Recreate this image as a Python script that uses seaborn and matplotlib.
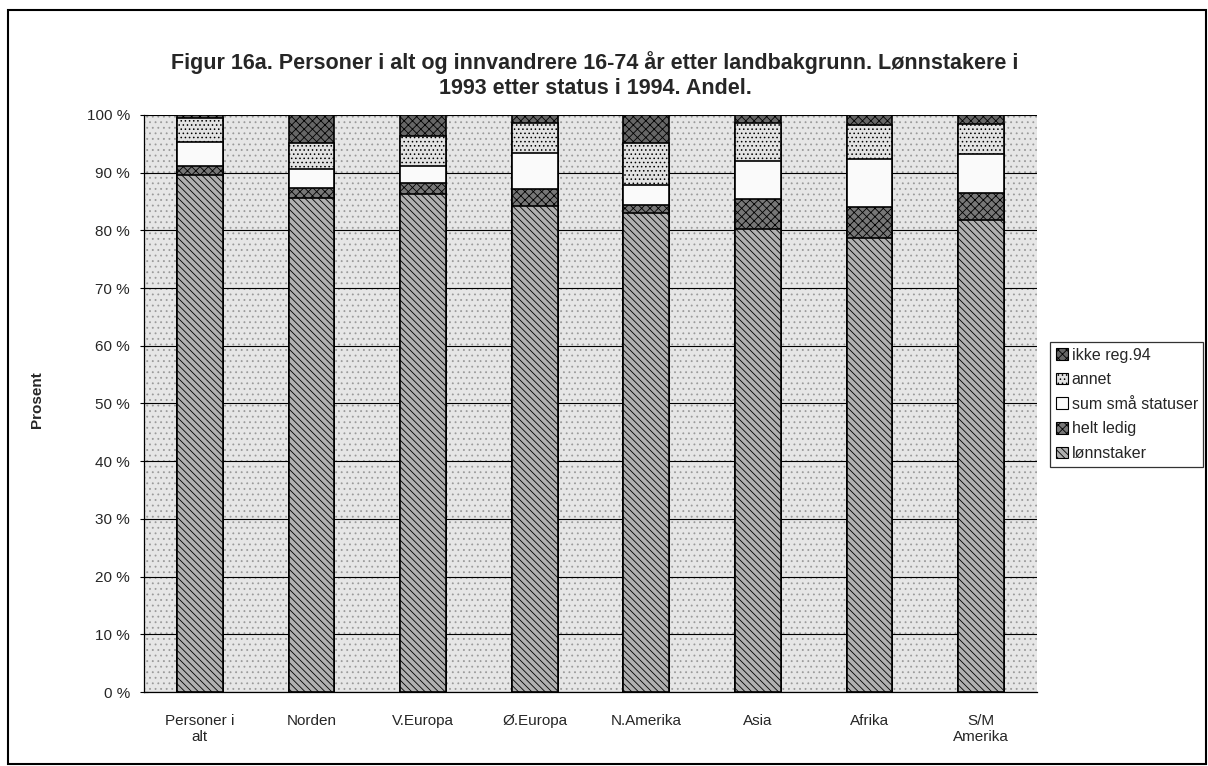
"""
Figur 16a - lønnstakere i 1993 etter status i 1994, stablet andel per landbakgrunn
"""

import numpy as np
import pandas as pd
import matplotlib
matplotlib.use("Agg")
import matplotlib.pyplot as plt
from matplotlib.patches import Patch, Rectangle
import seaborn as sns

categories = ["Personer i\nalt", "Norden", "V.Europa", "Ø.Europa",
              "N.Amerika", "Asia", "Afrika", "S/M\nAmerika"]
series_names = ["lønnstaker", "helt ledig", "sum små statuser", "annet", "ikke reg.94"]

lonnstaker = [89.6, 85.6, 86.3, 84.3, 83.0, 80.3, 78.7, 81.8]
helt_ledig = [1.5, 1.7, 1.9, 2.8, 1.4, 5.2, 5.4, 4.6]
sma_statuser = [4.3, 3.4, 3.0, 6.3, 3.4, 6.6, 8.3, 6.8]
annet = [4.0, 4.4, 5.2, 5.2, 7.3, 6.6, 5.9, 5.2]
ikke_reg = [0.6, 4.9, 3.6, 1.4, 4.9, 1.3, 1.7, 1.6]

yticks = list(range(0, 101, 10))

sns.set_theme(style="white")
plt.rcParams["font.family"] = ["Liberation Sans", "DejaVu Sans"]
plt.rcParams["hatch.color"] = "black"
plt.rcParams["hatch.linewidth"] = 0.6

# styles for each series (bottom -> top)
styles = {
    "lønnstaker": dict(color="#b0b0b0", hatch="\\\\\\\\\\"),
    "helt ledig": dict(color="#777777", hatch="xxxx"),
    "sum små statuser": dict(color="#fafafa", hatch=""),
    "annet": dict(color="#e2e2e2", hatch="...."),
    "ikke reg.94": dict(color="#666666", hatch="xxxx"),
}

values = np.array([lonnstaker, helt_ledig, sma_statuser, annet, ikke_reg])
cum = np.cumsum(values, axis=0)

rows = []
for name, tops in zip(series_names, cum):
    for cat, top in zip(categories, tops):
        rows.append({"kategori": cat, "serie": name, "topp": top})
df = pd.DataFrame(rows)

fig = plt.figure(figsize=(12.08, 7.66), dpi=100)
ax = fig.add_axes([144 / 1208, 1 - 692 / 766, (1037 - 144) / 1208, (692 - 115) / 766])

# dotted plot background
ax.set_facecolor("white")
ax.add_patch(Rectangle((0, 0), 1, 1, transform=ax.transAxes, facecolor="#e6e6e6",
                       edgecolor="#9a9a9a", hatch="...", linewidth=0, zorder=-2))

# draw cumulative bars top layer first so lower layers sit on top
for name in reversed(series_names):
    sub = df[df["serie"] == name]
    sns.barplot(data=sub, x="kategori", y="topp", order=categories, ax=ax,
                width=0.41, color=styles[name]["color"], hatch=styles[name]["hatch"],
                edgecolor="black", linewidth=1.2, saturation=1, zorder=2)

ax.set_ylim(0, 100)
ax.set_xlim(-0.5, len(categories) - 0.5)
ax.set_yticks(yticks)
ax.set_yticklabels([f"{v} %" for v in yticks], fontsize=11)
ax.yaxis.grid(True, color="black", linewidth=0.8)
ax.set_axisbelow(True)
ax.set_xlabel("")
ax.set_ylabel("")

ax.set_xticks(range(len(categories)))
ax.set_xticklabels(categories, fontsize=11, linespacing=1.15)
ax.tick_params(axis="x", length=0, pad=16)
ax.set_xticks(np.arange(-0.5, len(categories)), minor=True)
ax.tick_params(axis="x", which="minor", length=6, width=0.8, color="black", direction="inout")
ax.tick_params(axis="y", length=6, width=0.8, color="black", direction="inout", left=True, pad=7)

for side in ["top", "right"]:
    ax.spines[side].set_visible(False)
for side in ["left", "bottom"]:
    ax.spines[side].set_color("black")
    ax.spines[side].set_linewidth(0.9)

fig.text(595 / 1208, 1 - 75 / 766,
         "Figur 16a. Personer i alt og innvandrere 16-74 år etter landbakgrunn. Lønnstakere i\n"
         "1993 etter status i 1994. Andel.",
         ha="center", va="center", fontsize=15.5, fontweight="bold", linespacing=1.2)
fig.text(37 / 1208, 1 - 400 / 766, "Prosent", rotation=90, ha="center", va="center",
         fontsize=11, fontweight="bold")

handles = [Patch(facecolor=styles[n]["color"], hatch=styles[n]["hatch"],
                 edgecolor="black", linewidth=0.8) for n in reversed(series_names)]
leg = fig.legend(handles, list(reversed(series_names)), loc="upper left",
                 bbox_to_anchor=(1050 / 1208, 1 - 342 / 766), fontsize=11.5,
                 frameon=True, fancybox=False, handlelength=0.75, handleheight=0.75,
                 handletextpad=0.25, labelspacing=0.6, borderpad=0.35, borderaxespad=0)
leg.get_frame().set_edgecolor("black")
leg.get_frame().set_linewidth(0.9)

# outer frame around the whole chart
fig.patches.append(Rectangle((8 / 1208, 0.002), 1 - 10 / 1208, 1 - 10 / 766 - 0.002,
                             transform=fig.transFigure, fill=False,
                             edgecolor="black", linewidth=1.5))

fig.savefig("out.png", dpi=100)
